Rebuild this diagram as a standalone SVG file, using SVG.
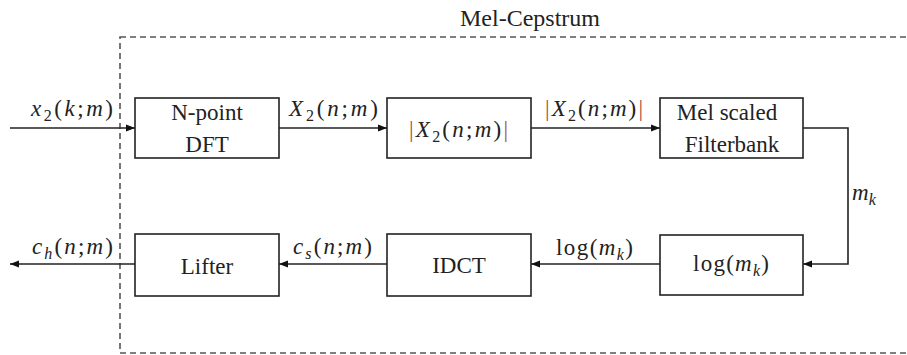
<svg xmlns="http://www.w3.org/2000/svg" width="907" height="355" viewBox="0 0 907 355" font-family="serif">
<defs>
<marker id="ah" markerWidth="10" markerHeight="8" refX="9" refY="4" orient="auto" markerUnits="userSpaceOnUse">
<path d="M0,0.5 L9,4 L0,7.5 Z" fill="#111"/>
</marker>
</defs>
<rect x="120" y="37" width="800" height="316" fill="none" stroke="#555" stroke-width="1.6" stroke-dasharray="6 4"/>
<text font-family="Times New Roman, serif" font-size="23" fill="#222" x="460" y="26" textLength="140" lengthAdjust="spacingAndGlyphs">Mel-Cepstrum</text>
<g id="connectors" fill="none" stroke="#222" stroke-width="1.6">
<line x1="10" y1="128" x2="135" y2="128" marker-end="url(#ah)"/>
<line x1="279" y1="128" x2="387" y2="128" marker-end="url(#ah)"/>
<line x1="531" y1="128" x2="660" y2="128" marker-end="url(#ah)"/>
<polyline points="803,128 848,128 848,264 803,264" marker-end="url(#ah)"/>
<line x1="660" y1="264" x2="531" y2="264" marker-end="url(#ah)"/>
<line x1="387" y1="264" x2="279" y2="264" marker-end="url(#ah)"/>
<line x1="135" y1="264" x2="10" y2="264" marker-end="url(#ah)"/>
</g>
<g id="labels">
<text font-family="Times New Roman, serif" font-size="23" fill="#222" x="31" y="116" textLength="82"><tspan font-style="italic">x</tspan><tspan font-size="16" dy="5">2</tspan><tspan dy="-5">(</tspan><tspan font-style="italic">k</tspan>;<tspan font-style="italic">m</tspan>)</text>
<text font-family="Times New Roman, serif" font-size="23" fill="#222" x="289" y="116" textLength="89"><tspan font-style="italic">X</tspan><tspan font-size="16" dy="5">2</tspan><tspan dy="-5">(</tspan><tspan font-style="italic">n</tspan>;<tspan font-style="italic">m</tspan>)</text>
<text font-family="Times New Roman, serif" font-size="23" fill="#222" x="545" y="116" textLength="98"><tspan fill="#a5503a">|</tspan><tspan font-style="italic">X</tspan><tspan font-size="16" dy="5">2</tspan><tspan dy="-5">(</tspan><tspan font-style="italic">n</tspan>;<tspan font-style="italic">m</tspan>)<tspan fill="#a5503a">|</tspan></text>
<text font-family="Times New Roman, serif" font-size="23" fill="#222" x="852" y="200"><tspan font-style="italic">m</tspan><tspan font-size="16" font-style="italic" dy="5">k</tspan></text>
<text font-family="Times New Roman, serif" font-size="23" fill="#222" x="556" y="255" textLength="77">log(<tspan font-style="italic">m</tspan><tspan font-size="16" font-style="italic" dy="5">k</tspan><tspan dy="-5">)</tspan></text>
<text font-family="Times New Roman, serif" font-size="23" fill="#222" x="293" y="254" textLength="79"><tspan font-style="italic">c</tspan><tspan font-size="16" font-style="italic" dy="5">s</tspan><tspan dy="-5">(</tspan><tspan font-style="italic">n</tspan>;<tspan font-style="italic">m</tspan>)</text>
<text font-family="Times New Roman, serif" font-size="23" fill="#222" x="32" y="254" textLength="81"><tspan font-style="italic">c</tspan><tspan font-size="16" font-style="italic" dy="5">h</tspan><tspan dy="-5">(</tspan><tspan font-style="italic">n</tspan>;<tspan font-style="italic">m</tspan>)</text>
</g>
<g id="dft">
<rect x="135" y="98" width="144" height="60" fill="#fff" stroke="#222" stroke-width="1.6"/>
<text font-family="Times New Roman, serif" font-size="23" fill="#222" text-anchor="middle" x="207" y="120">N-point</text>
<text font-family="Times New Roman, serif" font-size="23" fill="#222" text-anchor="middle" x="207" y="152">DFT</text>
</g>
<g id="abs">
<rect x="387" y="98" width="144" height="60" fill="#fff" stroke="#222" stroke-width="1.6"/>
<text font-family="Times New Roman, serif" font-size="23" fill="#222" x="409" y="137" textLength="99"><tspan fill="#a5503a">|</tspan><tspan font-style="italic">X</tspan><tspan font-size="16" dy="5">2</tspan><tspan dy="-5">(</tspan><tspan font-style="italic">n</tspan>;<tspan font-style="italic">m</tspan>)<tspan fill="#a5503a">|</tspan></text>
</g>
<g id="mel">
<rect x="660" y="98" width="143" height="60" fill="#fff" stroke="#222" stroke-width="1.6"/>
<text font-family="Times New Roman, serif" font-size="23" fill="#222" text-anchor="middle" x="727" y="120">Mel scaled</text>
<text font-family="Times New Roman, serif" font-size="23" fill="#222" text-anchor="middle" x="732" y="152">Filterbank</text>
</g>
<g id="log">
<rect x="660" y="235" width="143" height="60" fill="#fff" stroke="#222" stroke-width="1.6"/>
<text font-family="Times New Roman, serif" font-size="23" fill="#222" x="693" y="271" textLength="76">log(<tspan font-style="italic">m</tspan><tspan font-size="16" font-style="italic" dy="5">k</tspan><tspan dy="-5">)</tspan></text>
</g>
<g id="idct">
<rect x="387" y="234" width="144" height="62" fill="#fff" stroke="#222" stroke-width="1.6"/>
<text font-family="Times New Roman, serif" font-size="23" fill="#222" text-anchor="middle" x="459" y="273">IDCT</text>
</g>
<g id="lifter">
<rect x="135" y="234" width="144" height="62" fill="#fff" stroke="#222" stroke-width="1.6"/>
<text font-family="Times New Roman, serif" font-size="23" fill="#222" text-anchor="middle" x="207" y="274">Lifter</text>
</g>
</svg>
